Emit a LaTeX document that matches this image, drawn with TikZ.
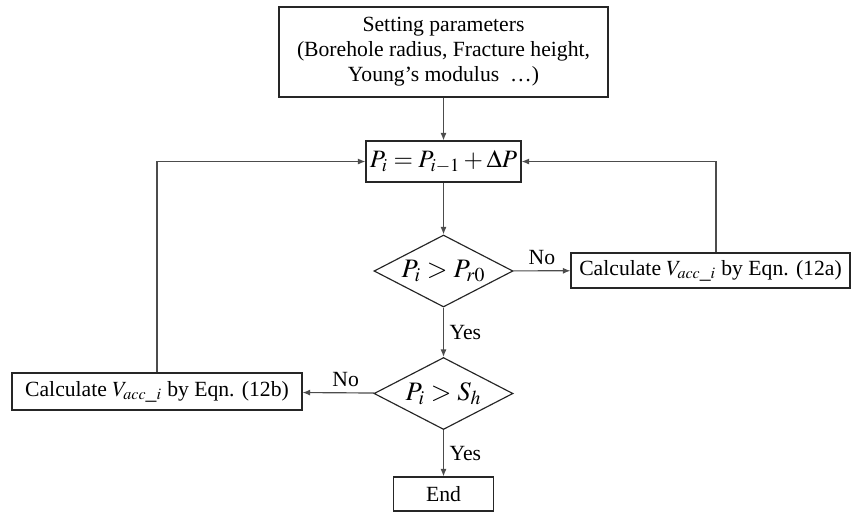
\documentclass[tikz,border=0pt]{standalone}
\usepackage{mathptmx}
\usepackage{fontspec}
\setmainfont{Liberation Serif}
\usetikzlibrary{shapes.geometric,arrows.meta}
\tikzset{
  caja/.style={draw=black!85, line width=0.7pt, align=center, inner sep=2pt},
  rombo/.style={draw=black!85, line width=0.7pt, diamond, aspect=1.93, inner sep=-2.5pt,
    minimum width=83.4pt, minimum height=43.2pt, font=\fontsize{16}{19}\selectfont},
  flecha/.style={draw=black!70, line width=0.7pt, -{Latex[length=4.5pt,width=3.6pt]}},
}
\begin{document}
\begin{tikzpicture}[x=0.6pt, y=-0.6pt, font=\fontsize{13}{15}\selectfont]
        \useasboundingbox (0,0) rectangle (851,512);
        % Cajas del diagrama
        \node[caja, minimum width=197.4pt, minimum height=54pt] (setting) at (443.5,52)
            {Setting parameters\\(Borehole radius, Fracture height,\\Young's modulus \ …)};
        \node[caja, minimum width=93pt, minimum height=24.6pt, font=\fontsize{15}{18}\selectfont]
            (pstep) at (443.5,161.5) {$P_i = P_{i-1} + \Delta P$};
        \node[rombo] (check1) at (443.5,271) {$P_i > P_{r0}$};
        \node[caja, minimum width=167.4pt, minimum height=21pt] (calcA) at (710.5,270.5)
            {Calculate $V_{acc\_i}$ by Eqn. (12a)};
        \node[rombo] (check2) at (443.5,393.5) {$P_i > S_h$};
        \node[caja, minimum width=174pt, minimum height=22.2pt] (calcB) at (157,391.5)
            {Calculate $V_{acc\_i}$ by Eqn. (12b)};
        \node[caja, minimum width=60pt, minimum height=20.4pt] (finish) at (443.5,494) {End};
        % Flechas
        \draw[flecha] (setting) -- (pstep);
        \draw[flecha] (pstep) -- (check1);
        \draw[flecha] (check1) -- node[above]{No} (calcA);
        \draw[flecha] ([xshift=3.3pt]calcA.north) |- (pstep.east);
        \draw[flecha] (check1) -- node[right]{Yes} (check2);
        \draw[flecha] (check2) -- node[above, pos=0.4]{No} (calcB);
        \draw[flecha] (calcB) |- (pstep.west);
        \draw[flecha] (check2) -- node[right]{Yes} (finish);
    \end{tikzpicture}
\end{document}
